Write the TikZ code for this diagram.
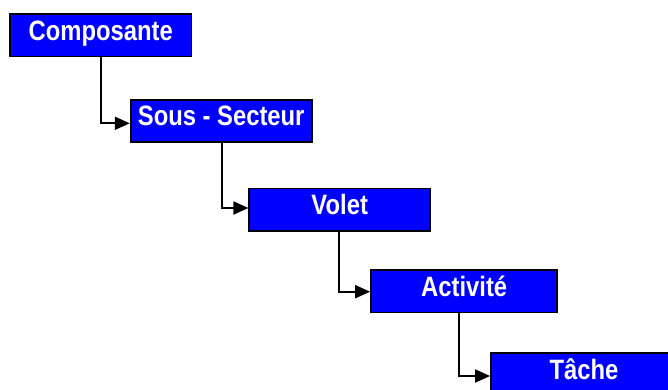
\documentclass[tikz,border=0pt]{standalone}
\usepackage{fontspec}
\newfontfamily\boxfont{Liberation Sans}[FakeStretch=0.85]
\usetikzlibrary{arrows.meta}
\definecolor{boxblue}{RGB}{0,0,255}
\begin{document}
\begin{tikzpicture}[x=1pt,y=-1pt,
  level/.style={draw=black, line width=1.8pt, fill=boxblue, text=white,
    font=\boxfont\bfseries\fontsize{28}{30}\selectfont,
    inner sep=0pt, text height=20pt, text depth=10pt,
    minimum height=42.5pt},
  link/.style={line width=1.8pt, -{Triangle[length=15pt,width=13pt]}}]
\useasboundingbox (0,0) rectangle (668,390);
\clip (0,0) rectangle (668,390);
% hierarchy levels, each one step lower and further right
\node[level, minimum width=181.5pt] (b1) at (100.8,35.3) {Composante};
\node[level, minimum width=181pt]   (b2) at (221.2,121) {Sous - Secteur};
\node[level, minimum width=180.7pt] (b3) at (339.7,209.8) {Volet};
\node[level, minimum width=186.3pt] (b4) at (464.2,291.2) {Activité};
\node[level, minimum width=186pt]   (b5) at (584,374) {Tâche};
% elbow connectors from each level to the next
\draw[link] (101,0 |- b1.south) |- (b2.west |- 0,123.3);
\draw[link] (221.7,0 |- b2.south) |- (b3.west |- 0,208);
\draw[link] (339.3,0 |- b3.south) |- (b4.west |- 0,291.7);
\draw[link] (459.3,0 |- b4.south) |- (b5.west |- 0,376);
\end{tikzpicture}
\end{document}
